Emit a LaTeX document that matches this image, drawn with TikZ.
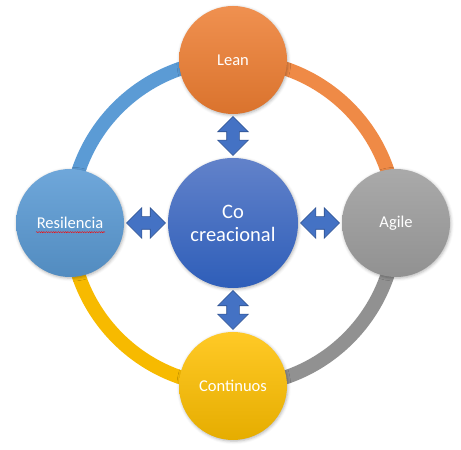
\documentclass[tikz,border=0pt]{standalone}
\usepackage{fontspec}
\setmainfont{Carlito}
\usetikzlibrary{shapes.arrows,shadows.blur,calc,decorations.pathmorphing}

\definecolor{cblue}{HTML}{4472C4}
\definecolor{cbluetop}{HTML}{6282CA}
\definecolor{cbluebot}{HTML}{2E5EB9}
\definecolor{cblueline}{HTML}{2F528F}
\definecolor{corange}{HTML}{ED7D31}
\definecolor{cgray}{HTML}{A5A5A5}
\definecolor{cgold}{HTML}{FFC000}
\definecolor{clight}{HTML}{5B9BD5}

\tikzset{
	ball/.style={circle, minimum size=108pt, inner sep=0pt, text=white,
		font=\fontsize{16.5}{20}\selectfont,
		blur shadow={shadow xshift=0.8pt, shadow yshift=-1.2pt, shadow blur radius=3pt, shadow opacity=30}},
	twoway/.style={double arrow, double arrow head extend=9pt, minimum height=39pt,
		inner xsep=0pt, inner ysep=6pt, fill=cblue, draw=cblueline, line width=0.6pt},
	rim/.style={line width=14pt}
}

\begin{document}
\begin{tikzpicture}[x=1pt,y=1pt]
	\useasboundingbox (0,0) rectangle (461,450);

	% outer ring
	\coordinate (mid) at (233,227);
	\draw[rim,clight] ($(mid)+(180:163)$) arc (180:90:163);
	\draw[rim,corange!90!white] ($(mid)+(90:163)$) arc (90:0:163);
	\draw[rim,cgray!88!black] ($(mid)+(0:163)$) arc (0:-90:163);
	\draw[rim,cgold!97!black] ($(mid)+(-90:163)$) arc (-90:-180:163);

	% circles
	\node[ball, minimum size=130pt, top color=cbluetop, bottom color=cbluebot,
		font=\fontsize{20.5}{23}\selectfont, align=center] (co) at (mid) {Co\\creacional};
	\node[ball, top color=corange!85!white, bottom color=corange!92!black] (lean) at ($(mid)+(90:163)$) {Lean};
	\node[ball, top color=cgray!95!white, bottom color=cgray!88!black] (agile) at ($(mid)+(0:163)$) {Agile};
	\node[ball, top color=cgold!85!white, bottom color=cgold!90!black] (cont) at ($(mid)+(-90:163)$) {Continuos};
	\node[ball, top color=clight!88!white, bottom color=clight!90!black] (res) at ($(mid)+(180:163)$) {Resilencia};
	\draw[red, decorate, decoration={snake, amplitude=0.6pt, segment length=2.4pt}]
		([xshift=-34pt,yshift=-3.5pt]res.base) -- ([xshift=35pt,yshift=-3.5pt]res.base);

	% arrows
	\node[twoway, rotate=90] (up) at ($(co.north)!0.5!(lean.south)$) {};
	\node[twoway] (right) at ($(co.east)!0.5!(agile.west)$) {};
	\node[twoway, rotate=90] (down) at ($(co.south)!0.5!(cont.north)$) {};
	\node[twoway] (left) at ($(co.west)!0.5!(res.east)$) {};
\end{tikzpicture}
\end{document}
